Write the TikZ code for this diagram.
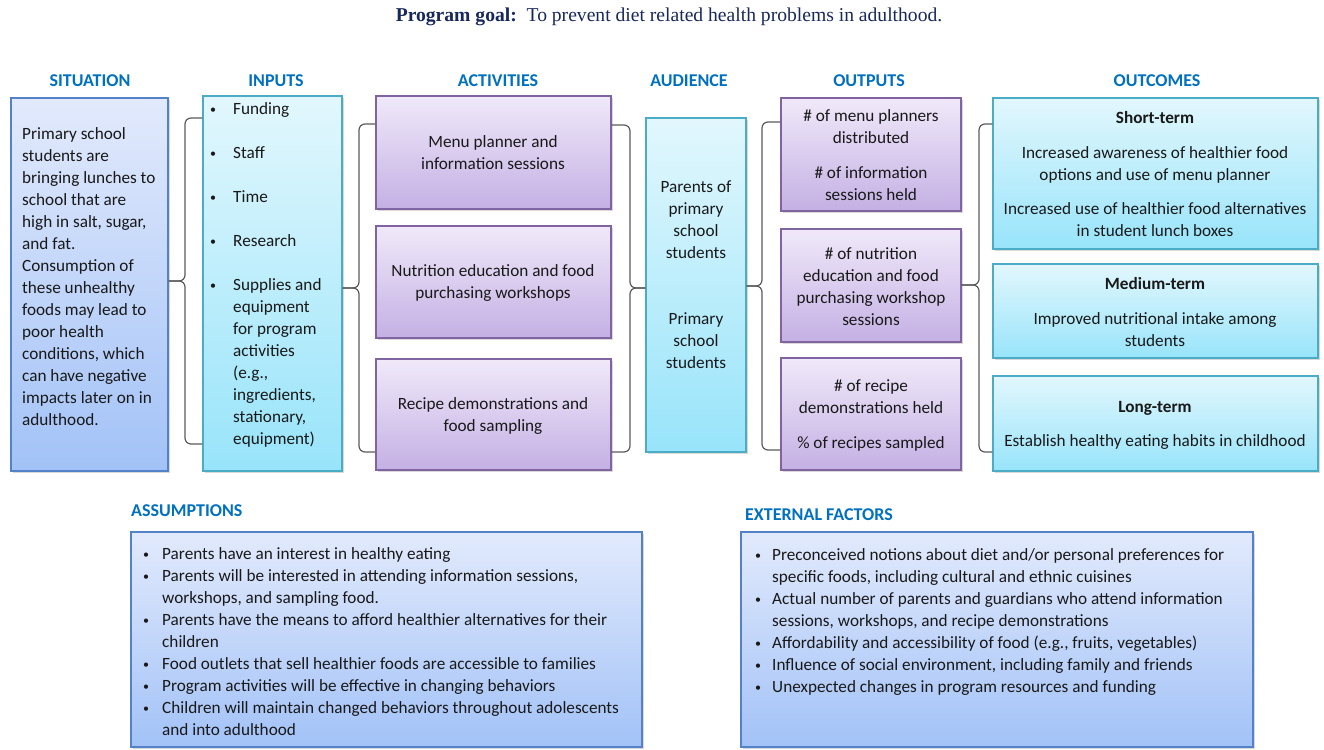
\documentclass[tikz,border=0pt]{standalone}
\usepackage{fontspec}
\setmainfont{Carlito}
\newfontfamily\titlefont{Liberation Serif}
\usetikzlibrary{shadows,calc}
\definecolor{hdr}{RGB}{0,112,192}
\definecolor{navy}{RGB}{23,40,92}
\definecolor{bluetop}{RGB}{226,234,252}
\definecolor{bluebot}{RGB}{162,194,247}
\definecolor{bluebd}{RGB}{84,130,200}
\definecolor{cyantop}{RGB}{226,247,253}
\definecolor{cyanbot}{RGB}{152,228,250}
\definecolor{cyanbd}{RGB}{75,172,198}
\definecolor{purtop}{RGB}{240,233,249}
\definecolor{purbot}{RGB}{196,176,228}
\definecolor{purbd}{RGB}{128,100,162}
\definecolor{bracec}{RGB}{90,90,90}
\definecolor{txtc}{RGB}{25,25,25}
\newcommand\lmbul[1]{\makebox[#1][l]{\raisebox{1pt}{\fontsize{12}{12}\selectfont •}}}
\newcommand\lmind[1]{\hspace*{#1}}
\begin{document}
\begin{tikzpicture}[x=1pt,y=-1pt,
  box/.style={draw, line width=1.1pt, inner sep=0pt, shading=axis,
    drop shadow={opacity=0.3, shadow xshift=2pt, shadow yshift=-2pt}},
  bluebox/.style={box, draw=bluebd, top color=bluetop, bottom color=bluebot},
  cyanbox/.style={box, draw=cyanbd, top color=cyantop, bottom color=cyanbot},
  purbox/.style={box, draw=purbd, top color=purtop, bottom color=purbot},
  txt/.style={font=\fontsize{17.2}{22}\selectfont, text=txtc, inner sep=0pt, align=center},
  ltxt/.style={txt, align=left, anchor=west},
  hdrst/.style={font=\fontsize{18}{20}\selectfont\bfseries, text=hdr, inner sep=0pt},
  brace/.style={draw=bracec, line width=1.2pt, rounded corners=6pt}]
\useasboundingbox (0,0) rectangle (1324,749);

% title
\node[inner sep=0pt, text=navy, font=\titlefont\fontsize{19.6}{22}\selectfont] (goal) at (669,17)
  {\textbf{Program goal:}\ \ To prevent diet related health problems in adulthood.};

% headers
\node[hdrst] (hsit) at (90,81) {SITUATION};
\node[hdrst] (hinp) at (276,81) {INPUTS};
\node[hdrst] (hact) at (498,81) {ACTIVITIES};
\node[hdrst] (haud) at (689,81) {AUDIENCE};
\node[hdrst] (hout) at (869,81) {OUTPUTS};
\node[hdrst] (hoc) at (1157,81) {OUTCOMES};
\node[hdrst, anchor=west] (hasm) at (131,511) {ASSUMPTIONS};
\node[hdrst, anchor=west] (hext) at (745,515) {EXTERNAL FACTORS};

% boxes
\node[bluebox, minimum width=157, minimum height=373] (sit) at (89.5,284.5) {};
\node[cyanbox, minimum width=139, minimum height=375] (inp) at (272.5,283.5) {};
\node[purbox, minimum width=235, minimum height=113] (act1) at (493.5,152.5) {};
\node[purbox, minimum width=235, minimum height=112] (act2) at (493.5,282) {};
\node[purbox, minimum width=235, minimum height=111] (act3) at (493.5,414.5) {};
\node[cyanbox, minimum width=100, minimum height=334] (aud) at (696,285) {};
\node[purbox, minimum width=180, minimum height=113] (out1) at (871,154.5) {};
\node[purbox, minimum width=180, minimum height=113] (out2) at (871,285.5) {};
\node[purbox, minimum width=180, minimum height=112] (out3) at (871,414) {};
\node[cyanbox, minimum width=325, minimum height=151] (oc1) at (1155.5,173.5) {};
\node[cyanbox, minimum width=325, minimum height=94] (oc2) at (1155.5,311) {};
\node[cyanbox, minimum width=325, minimum height=95] (oc3) at (1155.5,423.5) {};
\node[bluebox, minimum width=511, minimum height=215] (asm) at (386.5,639.5) {};
\node[bluebox, minimum width=512, minimum height=215] (ext) at (997,639.5) {};

% texts
\node[ltxt] (sitT) at (22,276.5) {Primary school\\students are\\bringing lunches to\\school that are\\high in salt, sugar,\\and fat.\\Consumption of\\these unhealthy\\foods may lead to\\poor health\\conditions, which\\can have negative\\impacts later on in\\adulthood.};
\node[ltxt] (inpT) at (210,275) {\lmbul{23pt}Funding\\[22pt]\lmbul{23pt}Staff\\[22pt]\lmbul{23pt}Time\\[22pt]\lmbul{23pt}Research\\[22pt]\lmbul{23pt}Supplies and\\\lmind{23pt}equipment\\\lmind{23pt}for program\\\lmind{23pt}activities\\\lmind{23pt}(e.g.,\\\lmind{23pt}ingredients,\\\lmind{23pt}stationary,\\\lmind{23pt}equipment)};
\node[txt] (act1T) at (493,153) {Menu planner and\\information sessions};
\node[txt] (act2T) at (493,283) {Nutrition education and food\\purchasing workshops};
\node[txt] (act3T) at (493,416) {Recipe demonstrations and\\food sampling};
\node[txt] (audT) at (696,275) {Parents of\\primary\\school\\students\\[44pt]Primary\\school\\students};
\node[txt] (out1T) at (871,155.5) {\# of menu planners\\distributed\\[13pt]\# of information\\sessions held};
\node[txt] (out2T) at (871,287) {\# of nutrition\\education and food\\purchasing workshop\\sessions};
\node[txt] (out3T) at (871,415.5) {\# of recipe\\demonstrations held\\[13pt]\% of recipes sampled};
\node[txt] (oc1T) at (1155,174.5) {\textbf{Short-term}\\[13pt]Increased awareness of healthier food\\options and use of menu planner\\[12pt]Increased use of healthier food alternatives\\in student lunch boxes};
\node[txt] (oc2T) at (1155,312.5) {\textbf{Medium-term}\\[13pt]Improved nutritional intake among\\students};
\node[txt] (oc3T) at (1155,425) {\textbf{Long-term}\\[12pt]Establish healthy eating habits in childhood};
\node[ltxt] (asmT) at (143,642) {\lmbul{19pt}Parents have an interest in healthy eating\\\lmbul{19pt}Parents will be interested in attending information sessions,\\\lmind{19pt}workshops, and sampling food.\\\lmbul{19pt}Parents have the means to afford healthier alternatives for their\\\lmind{19pt}children\\\lmbul{19pt}Food outlets that sell healthier foods are accessible to families\\\lmbul{19pt}Program activities will be effective in changing behaviors\\\lmbul{19pt}Children will maintain changed behaviors throughout adolescents\\\lmind{19pt}and into adulthood};
\node[ltxt] (extT) at (755,622) {\lmbul{17pt}Preconceived notions about diet and/or personal preferences for\\\lmind{17pt}specific foods, including cultural and ethnic cuisines\\\lmbul{17pt}Actual number of parents and guardians who attend information\\\lmind{17pt}sessions, workshops, and recipe demonstrations\\\lmbul{17pt}Affordability and accessibility of food (e.g., fruits, vegetables)\\\lmbul{17pt}Influence of social environment, including family and friends\\\lmbul{17pt}Unexpected changes in program resources and funding};

% braces
\draw[brace] (inp.west |- 0,118) -- (185,118) -- (185,281) -- (sit.east |- 0,281);
\draw[brace] (sit.east |- 0,281) -- (185,281) -- (185,444) -- (inp.west |- 0,444);
\draw[brace] (act1.west |- 0,124) -- (359,124) -- (359,288) -- (inp.east |- 0,288);
\draw[brace] (inp.east |- 0,288) -- (359,288) -- (359,452) -- (act3.west |- 0,452);
\draw[brace] (act1.east |- 0,125) -- (630,125) -- (630,288) -- (aud.west |- 0,288);
\draw[brace] (aud.west |- 0,288) -- (630,288) -- (630,452) -- (act3.east |- 0,452);
\draw[brace] (out1.west |- 0,122) -- (762,122) -- (762,286) -- (aud.east |- 0,286);
\draw[brace] (aud.east |- 0,286) -- (762,286) -- (762,450) -- (out3.west |- 0,450);
\draw[brace] (oc1.west |- 0,124) -- (979,124) -- (979,285) -- (out2.east |- 0,285);
\draw[brace] (out2.east |- 0,285) -- (979,285) -- (979,452) -- (oc3.west |- 0,452);
\end{tikzpicture}
\end{document}
